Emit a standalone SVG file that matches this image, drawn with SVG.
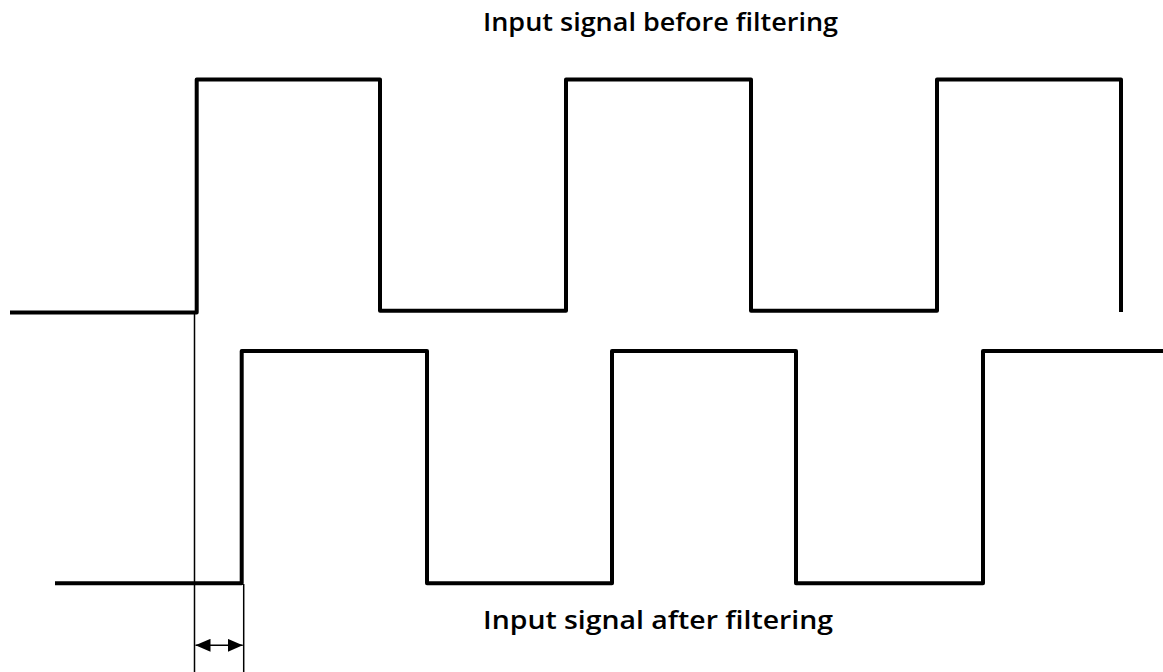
<svg xmlns="http://www.w3.org/2000/svg" width="1163" height="672" viewBox="0 0 1163 672">
<style>
.sig{fill:none;stroke:#000;stroke-width:4;stroke-linejoin:round;stroke-linecap:butt}
.thin{fill:none;stroke:#000;stroke-width:1.5}
.lbl{font-family:"Open Sans","Noto Sans",sans-serif;font-size:26px;font-weight:600;fill:#000}
</style>
<defs>
<marker id="ah" viewBox="0 0 15 13" refX="15" refY="6.5" markerWidth="15" markerHeight="13" markerUnits="userSpaceOnUse" orient="auto-start-reverse">
<path d="M0,0 L15,6.5 L0,13 Z" fill="#000"/>
</marker>
</defs>
<rect width="1163" height="672" fill="#fff"/>
<g id="input-before">
<path class="sig" d="M10,312.5 H196.7 V79.5 H380 V310.7 H566 V79.5 H751 V310.7 H937 V79.5 H1121 V312"/>
<text class="lbl" x="483" y="31" textLength="355" lengthAdjust="spacingAndGlyphs">Input signal before filtering</text>
</g>
<g id="input-after">
<path class="sig" d="M55,583.3 H241.7 V351 H427 V583.3 H612 V351 H796 V583.3 H983 V351 H1163"/>
<text class="lbl" x="483" y="629" textLength="350" lengthAdjust="spacingAndGlyphs">Input signal after filtering</text>
</g>
<g id="connectors">
<line class="thin" x1="194.5" y1="312" x2="194.5" y2="672"/>
<line class="thin" x1="243.7" y1="584" x2="243.7" y2="672"/>
<line x1="195.5" y1="645.3" x2="242.7" y2="645.3" stroke="#000" stroke-width="1.5" marker-start="url(#ah)" marker-end="url(#ah)"/>
</g>
</svg>
